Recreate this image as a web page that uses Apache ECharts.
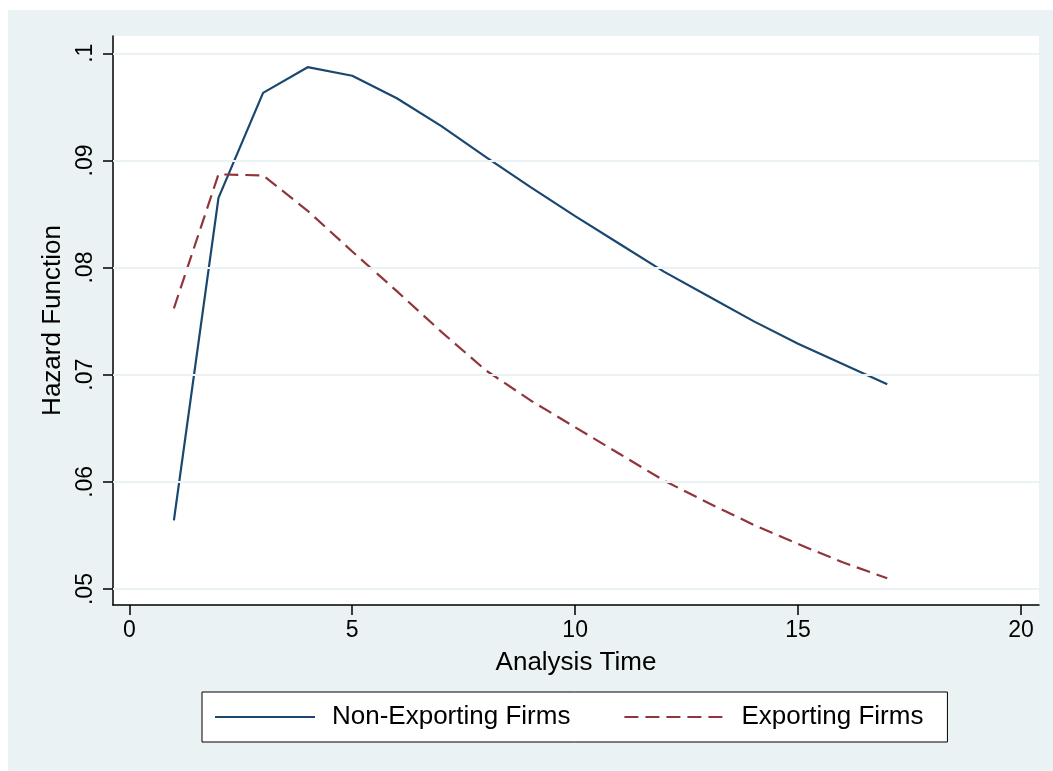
<!DOCTYPE html>
<html>
<head>
<meta charset="utf-8">
<script src="https://cdn.jsdelivr.net/npm/echarts@6/dist/echarts.min.js"></script>
<style>
  html, body { margin: 0; padding: 0; background: #ffffff; }
  #chart { position: absolute; left: 8px; top: 10px; width: 1045px; height: 761px; }
</style>
</head>
<body>
<div id="chart"></div>
<script>
// ---- data ----
const analysisTime = [1, 2, 3, 4, 5, 6, 7, 8, 9, 10, 11, 12, 13, 14, 15, 16, 17];
const nonExporting = [0.0564, 0.0865, 0.0963, 0.0987, 0.0979, 0.0958, 0.0932, 0.0903, 0.0875,
                      0.0848, 0.0822, 0.0796, 0.0773, 0.0750, 0.0729, 0.0710, 0.0691];
const exporting    = [0.0762, 0.0887, 0.0886, 0.0853, 0.0815, 0.0778, 0.0740, 0.0704, 0.0676,
                      0.0651, 0.0626, 0.0601, 0.0580, 0.0560, 0.0542, 0.0525, 0.0510];
const xTicks = [0, 5, 10, 15, 20];
const yTicks = [0.05, 0.06, 0.07, 0.08, 0.09, 0.1];
const seriesNames = ['Non-Exporting Firms', 'Exporting Firms'];

const FONT = '"Liberation Sans", Arial, Helvetica, sans-serif';
const chart = echarts.init(document.getElementById('chart'), null, { renderer: 'canvas' });

const fmtY = v => String(Number(v.toFixed(2))).replace(/^0/, '');

chart.setOption({
  backgroundColor: '#eaf2f3',
  animation: false,
  textStyle: { fontFamily: FONT },
  grid: {
    left: 105, top: 26, width: 926, height: 569,
    show: true, backgroundColor: '#ffffff', borderWidth: 0
  },
  xAxis: {
    type: 'value',
    min: -0.366, max: 20.404,
    name: 'Analysis Time',
    nameLocation: 'middle',
    nameGap: 45,
    nameTextStyle: { fontSize: 26, color: '#000', fontFamily: FONT },
    axisLine: { show: true, onZero: false, lineStyle: { color: '#000', width: 1.5 } },
    axisTick: { show: true, length: 10, customValues: xTicks, lineStyle: { color: '#000', width: 1.5 } },
    axisLabel: { customValues: xTicks, fontSize: 23, color: '#000', margin: 14, fontFamily: FONT },
    splitLine: { show: false }
  },
  yAxis: {
    type: 'value',
    min: 0.04851, max: 0.10161,
    name: 'Hazard Function',
    nameLocation: 'middle',
    nameGap: 47,
    nameRotate: 90,
    nameTextStyle: { fontSize: 26, color: '#000', fontFamily: FONT },
    axisLine: { show: true, onZero: false, lineStyle: { color: '#000', width: 1.5 } },
    axisTick: { show: true, length: 10, customValues: yTicks, lineStyle: { color: '#000', width: 1.5 } },
    axisLabel: { customValues: yTicks, rotate: 90, fontSize: 23, color: '#000', margin: 16,
                 formatter: fmtY, fontFamily: FONT },
    splitLine: { show: false }
  },
  legend: {
    data: seriesNames,
    left: 194, top: 682,
    orient: 'horizontal',
    backgroundColor: '#ffffff',
    borderColor: '#000', borderWidth: 1,
    borderRadius: 0,
    padding: [12, 24, 12, 12],
    itemWidth: 100, itemHeight: 14,
    itemGap: 53,
    itemStyle: { opacity: 0 },
    textStyle: { fontSize: 26, color: '#000', fontFamily: FONT, padding: [0, 0, 0, 12] }
  },
  series: [
    {
      name: 'grid',
      type: 'line',
      data: [],
      silent: true,
      z: 1,
      markLine: {
        silent: true,
        symbol: ['none', 'none'],
        label: { show: false },
        lineStyle: { color: '#eaf2f3', width: 2, type: 'solid' },
        data: yTicks.map(v => ({ yAxis: v }))
      }
    },
    {
      name: seriesNames[0],
      type: 'line',
      z: 3,
      data: analysisTime.map((t, i) => [t, nonExporting[i]]),
      showSymbol: false, symbol: 'none',
      lineStyle: { color: '#1a476f', width: 2.2, type: 'solid' },
      itemStyle: { color: '#1a476f' }
    },
    {
      name: seriesNames[1],
      type: 'line',
      z: 3,
      data: analysisTime.map((t, i) => [t, exporting[i]]),
      showSymbol: false, symbol: 'none',
      lineStyle: { color: '#90353b', width: 2.2, type: [14, 7] },
      itemStyle: { color: '#90353b' }
    }
  ]
});
</script>
</body>
</html>
